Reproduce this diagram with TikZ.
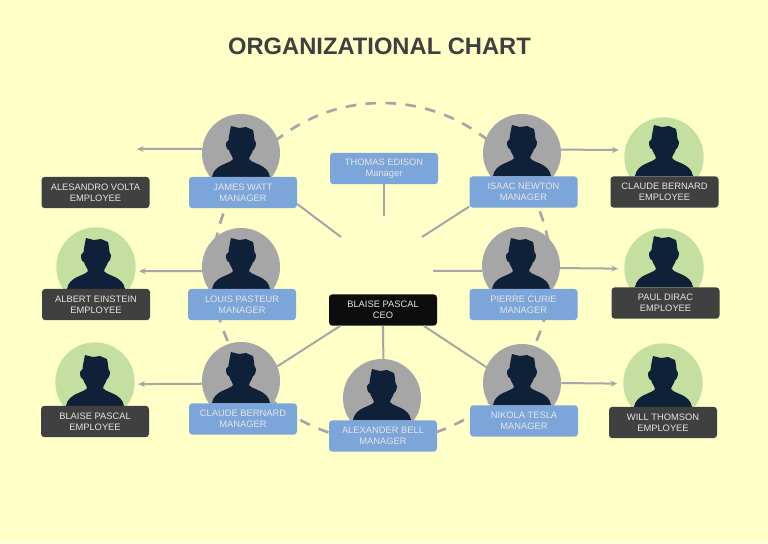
\documentclass[tikz,border=0pt]{standalone}
\usepackage{fontspec}
\setmainfont{Liberation Sans}
\usetikzlibrary{arrows.meta}
\definecolor{pagebg}{HTML}{FFFFC8}
\definecolor{linegray}{HTML}{A6A6A6}
\definecolor{mgrblue}{HTML}{7CA5DA}
\definecolor{empgreen}{HTML}{C5DFA0}
\definecolor{empdark}{HTML}{404040}
\definecolor{ceoblack}{HTML}{0D0D0D}
\definecolor{headblue}{HTML}{0F2139}
\definecolor{titlegray}{HTML}{3F3F3F}
\tikzset{
  label box/.style={rounded corners=2.5pt, minimum width=81pt, minimum height=23.5pt,
    inner sep=0pt, align=center, text=white!90!black,
    font=\fontsize{7}{8}\selectfont},
  mgrbox/.style={label box, fill=mgrblue},
  empbox/.style={label box, fill=empdark},
  ceobox/.style={label box, fill=ceoblack},
  mgrdisc/.style={circle, fill=linegray, minimum size=58.5pt, inner sep=0pt},
  empdisc/.style={circle, fill=empgreen, minimum size=59.5pt, inner sep=0pt},
  ringline/.style={linegray, line width=2pt, dash pattern=on 8pt off 7pt},
  hubline/.style={linegray, line width=1.5pt},
  armline/.style={hubline, -{Stealth[length=5pt, width=4.5pt]}},
  person/.pic={
    \fill[headblue] (-10,-51) -- (-2,-49) -- (5,-50) -- (12,-47)
      .. controls (13,-43) and (13,-40) .. (13.5,-37) -- (15,-34)
      .. controls (15,-30) and (13,-27) .. (12,-27) .. controls (11,-23) and (9,-22) .. (8,-18)
      .. controls (11,-13) and (27,-13) .. (29,0)
      -- (-29,0) .. controls (-27,-13) and (-11,-13) .. (-8,-18)
      .. controls (-9,-22) and (-11,-23) .. (-12,-27) .. controls (-14,-27) and (-15,-30) .. (-15,-34)
      -- (-12.5,-37) .. controls (-12,-42) and (-11,-46) .. (-10,-51) -- cycle;
  }
}
\begin{document}
\begin{tikzpicture}[x=0.75pt, y=-0.75pt]
  \fill[pagebg] (0,0) rectangle (768,543);
  \useasboundingbox (0,0) rectangle (768,543);

  \node[font=\fontsize{17.8}{20}\selectfont\bfseries, text=titlegray] (title) at (379.5,46) {ORGANIZATIONAL CHART};

  % dashed ring behind the managers
  \coordinate (hub) at (382,272);
  \draw[ringline] (hub) circle (169);

  \foreach \nm/\x/\y/\t in {watt/241/153/177, pasteur/241/267/289, bernard/241/381/403,
      bell/382/398/420, tesla/522/383/405, newton/522/153/176, curie/521/266/289}
    {\node[mgrdisc] (\nm) at (\x,\y) {}; \pic at (\x,\t) {person};}
  \foreach \nm/\x/\y/\t in {einstein/96/267/289, pascal/95/382/406,
      claude/664/157/176, dirac/664/268/287, thomson/663/383/407}
    {\node[empdisc] (\nm) at (\x,\y) {}; \pic at (\x,\t) {person};}

  \node[mgrbox] (wattbox)    at (243,192.5) {JAMES WATT\\MANAGER};
  \node[mgrbox] (pasteurbox) at (242,304.5) {LOUIS PASTEUR\\MANAGER};
  \node[mgrbox] (bernardbox) at (243,419)   {CLAUDE BERNARD\\MANAGER};
  \node[mgrbox] (bellbox)    at (383,436)   {ALEXANDER BELL\\MANAGER};
  \node[mgrbox] (teslabox)   at (524,421)   {NIKOLA TESLA\\MANAGER};
  \node[mgrbox] (newtonbox)  at (523.5,192) {ISAAC NEWTON\\MANAGER};
  \node[mgrbox] (curiebox)   at (523.5,304.5) {PIERRE CURIE\\MANAGER};
  \node[mgrbox] (edisonbox)  at (384,168.5) {THOMAS EDISON\\Manager};
  \node[ceobox] (ceobox)     at (383,310)   {BLAISE PASCAL\\CEO};

  \node[empbox] (voltabox)    at (95.5,192.5) {ALESANDRO VOLTA\\EMPLOYEE};
  \node[empbox] (einsteinbox) at (96,304.5)   {ALBERT EINSTEIN\\EMPLOYEE};
  \node[empbox] (pascalbox)   at (95,421.5)   {BLAISE PASCAL\\EMPLOYEE};
  \node[empbox] (claudebox)   at (664.5,192)  {CLAUDE BERNARD\\EMPLOYEE};
  \node[empbox] (diracbox)    at (665.5,303)  {PAUL DIRAC\\EMPLOYEE};
  \node[empbox] (thomsonbox)  at (663,422.5)  {WILL THOMSON\\EMPLOYEE};

  % free ends of the spokes and arrows
  \coordinate (wattend) at (341,237);
  \coordinate (newtonend) at (422,237);
  \coordinate (edisonend) at (384,216);
  \coordinate (curieend) at (433,271);
  \coordinate (ceoleft) at (340,326);
  \coordinate (ceoright) at (424,326);
  \coordinate (voltaend) at (137,149);

  \draw[hubline] (wattbox.-12) -- (wattend);
  \draw[hubline] (newtonbox.195) -- (newtonend);
  \draw[hubline] (edisonbox.south) -- (edisonend);
  \draw[hubline] (curie.187) -- (curieend);
  \draw[hubline] (ceoleft) -- (bernard.22);
  \draw[hubline] (ceobox.south) -- (bell.88);
  \draw[hubline] (ceoright) -- (tesla.156);

  \draw[armline] (watt.174) -- (voltaend);
  \draw[armline, shorten >=2.5pt] (pasteur.186) -- (einstein.-6);
  \draw[armline, shorten >=2.5pt] (bernard.184) -- (pascal.-3);
  \draw[armline, shorten >=4.5pt] (newton.5) -- (claude.170);
  \draw[armline, shorten >=4.5pt] (curie.-3) -- (dirac.181);
  \draw[armline, shorten >=4.5pt] (tesla.east) -- (thomson.181);
\end{tikzpicture}
\end{document}
